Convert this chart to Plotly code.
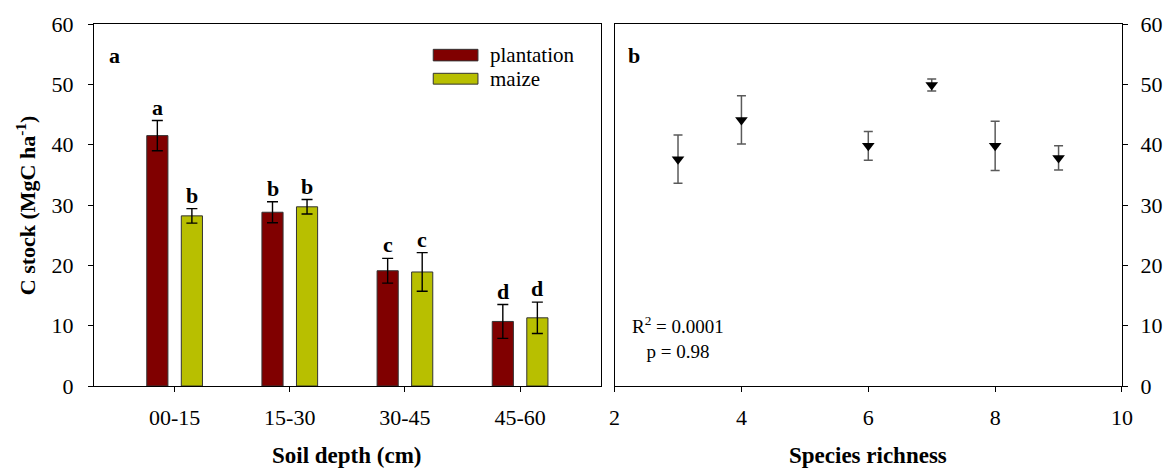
import plotly.graph_objects as go

# Panel a: soil C stock by depth and land use
depths = ["00-15", "15-30", "30-45", "45-60"]
plantation = [41.5, 28.8, 19.1, 10.7]
plantation_err = [2.5, 1.75, 2.05, 2.8]
plantation_letters = ["a", "b", "c", "d"]
maize = [28.2, 29.7, 18.9, 11.3]
maize_err = [1.2, 1.2, 3.2, 2.6]
maize_letters = ["b", "b", "c", "d"]

# Panel b: C stock against species richness
richness = [3, 4, 6, 7, 8, 9]
richness_stock = [37.6, 44.1, 39.8, 49.9, 39.8, 37.8]
richness_err = [4.0, 4.0, 2.4, 1.0, 4.1, 2.0]

PLANT_COL = "#800000"
MAIZE_COL = "#b8bf00"
SERIF = "Liberation Serif"

fig = go.Figure()

fig.add_trace(go.Bar(
    x=depths, y=plantation, name="plantation",
    marker=dict(color=PLANT_COL, line=dict(color="#333333", width=1)),
    error_y=dict(type="data", array=plantation_err, color="black", thickness=1.4, width=5.5),
    xaxis="x", yaxis="y", showlegend=False,
))
fig.add_trace(go.Bar(
    x=depths, y=maize, name="maize",
    marker=dict(color=MAIZE_COL, line=dict(color="#333333", width=1)),
    error_y=dict(type="data", array=maize_err, color="black", thickness=1.4, width=5.5),
    xaxis="x", yaxis="y", showlegend=False,
))

fig.add_trace(go.Scatter(
    x=richness, y=richness_stock, mode="markers",
    marker=dict(symbol="triangle-down", size=11, color="black"),
    error_y=dict(type="data", array=richness_err, color="#5a5a5a", thickness=1.5, width=4.5),
    xaxis="x2", yaxis="y2", showlegend=False,
))

annotations = []
# significance letters above each bar's error bar
for i in range(len(depths)):
    for off, vals, errs, letters in ((-0.15, plantation, plantation_err, plantation_letters),
                                     (0.15, maize, maize_err, maize_letters)):
        annotations.append(dict(
            x=i + off, y=vals[i] + errs[i], xref="x", yref="y",
            text="<b>%s</b>" % letters[i], showarrow=False,
            yanchor="bottom", yshift=-1,
            font=dict(family=SERIF, size=22, color="black"),
        ))

# panel labels
for px, lab in ((0.0200, "a"), (0.5255, "b")):
    annotations.append(dict(
        x=px, y=0.9137, xref="paper", yref="paper", text="<b>%s</b>" % lab,
        showarrow=False, xanchor="center", yanchor="middle",
        font=dict(family=SERIF, size=22, color="black"),
    ))

# legend entries for panel a
shapes = []
legend_rows = [("plantation", PLANT_COL, 0.930, 0.8981, 0.9137),
               ("maize", MAIZE_COL, 0.8638, 0.8339, 0.847)]
for label, col, y_top, y_bot, y_txt in legend_rows:
    shapes.append(dict(
        type="rect", xref="paper", yref="paper",
        x0=0.330, x1=0.3735, y0=y_bot, y1=y_top,
        fillcolor=col, line=dict(color="#333333", width=1),
    ))
    annotations.append(dict(
        x=0.3836, y=y_txt, xref="paper", yref="paper", text=label,
        showarrow=False, xanchor="left", yanchor="middle",
        font=dict(family=SERIF, size=21, color="black"),
    ))

# regression statistics
annotations.append(dict(
    x=0.5682, y=0.1348, xref="paper", yref="paper",
    text="R<sup>2</sup> = 0.0001<br>p = 0.98", align="center",
    showarrow=False, xanchor="center", yanchor="middle",
    font=dict(family=SERIF, size=19, color="black"),
))

# axis titles
annotations.append(dict(
    x=0.2465, y=-0.192, xref="paper", yref="paper", text="<b>Soil depth (cm)</b>",
    showarrow=False, xanchor="center", yanchor="middle",
    font=dict(family=SERIF, size=23, color="black"),
))
annotations.append(dict(
    x=0.7533, y=-0.192, xref="paper", yref="paper", text="<b>Species richness</b>",
    showarrow=False, xanchor="center", yanchor="middle",
    font=dict(family=SERIF, size=23, color="black"),
))
annotations.append(dict(
    x=-0.0659, y=0.5, xref="paper", yref="paper",
    text="<b>C stock (MgC ha<sup>-1</sup>)</b>", textangle=-90,
    showarrow=False, xanchor="center", yanchor="middle",
    font=dict(family=SERIF, size=22, color="black"),
))

axis_common = dict(
    showline=True, linecolor="black", linewidth=1.2, mirror=True,
    ticks="outside", ticklen=5, tickcolor="black", tickwidth=1,
    showgrid=False, zeroline=False,
    tickfont=dict(family=SERIF, size=22, color="black"),
)

fig.update_layout(
    width=1175, height=470,
    margin=dict(l=94, r=44.3, t=19.3, b=83.5),
    paper_bgcolor="white", plot_bgcolor="white",
    barmode="group", bargap=0.4, bargroupgap=0.388,
    xaxis=dict(domain=[0, 0.4929], type="category", range=[-0.7, 3.7],
               ticklabelstandoff=6, **axis_common),
    yaxis=dict(domain=[0, 1], range=[0, 60], tickvals=[0, 10, 20, 30, 40, 50, 60],
               ticklabelstandoff=10, **axis_common),
    xaxis2=dict(domain=[0.5064, 1], range=[2, 10], tickvals=[2, 4, 6, 8, 10],
                anchor="y2", ticklabelstandoff=6, **axis_common),
    yaxis2=dict(domain=[0, 1], range=[0, 60], tickvals=[0, 10, 20, 30, 40, 50, 60],
                anchor="x2", side="right", ticklabelstandoff=8, **axis_common),
    annotations=annotations,
    shapes=shapes,
)

fig.write_html("out.html")
